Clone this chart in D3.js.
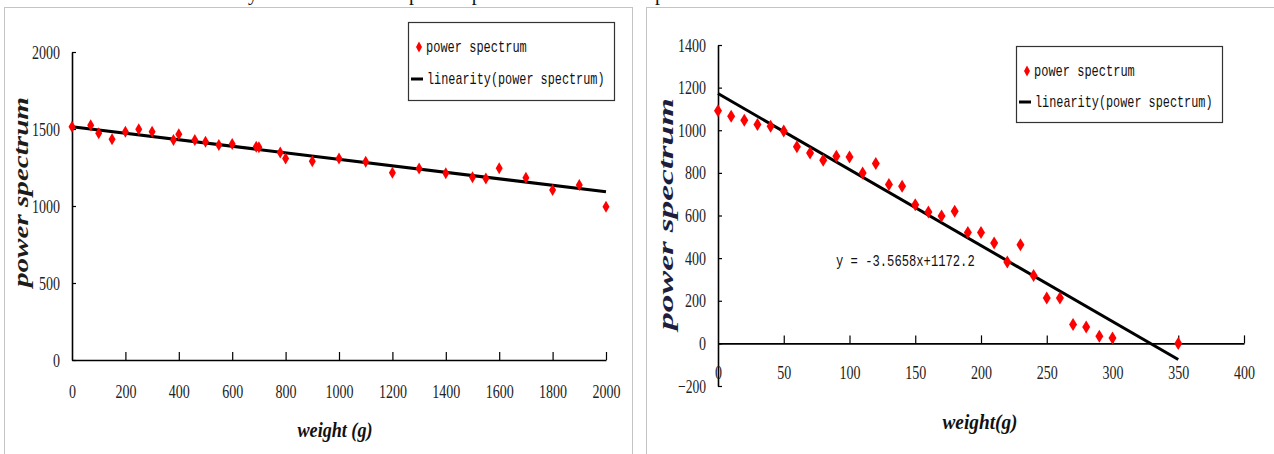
<!DOCTYPE html>
<html><head><meta charset="utf-8">
<script src="https://cdn.jsdelivr.net/npm/d3@7"></script>
<style>
html,body{margin:0;padding:0;background:#fff;}
svg{display:block;}
</style></head>
<body>
<svg id="c" width="1274" height="454"></svg>
<script>
// ---------- DATA ----------
const leftWeights = [0,70,100,150,200,250,300,380,400,460,500,550,600,690,700,780,800,900,1000,1100,1200,1300,1400,1500,1550,1600,1700,1800,1900,2000];
const leftPower   = [1515,1525,1472,1433,1482,1498,1482,1429,1466,1429,1418,1396,1403,1385,1381,1347,1309,1290,1309,1288,1216,1244,1212,1186,1179,1245,1184,1104,1136,995];
const leftFitX = [0, 2000];
const leftFitY = [1515, 1092];
const leftXTicks = [0,200,400,600,800,1000,1200,1400,1600,1800,2000];
const leftYTicks = [0,500,1000,1500,2000];

const rightWeights = [0,10,20,30,40,50,60,70,80,90,100,110,120,130,140,150,160,170,180,190,200,210,220,230,240,250,260,270,280,290,300,350];
const rightPower   = [1091,1066,1047,1027,1019,997,922,893,859,878,875,800,844,746,737,650,616,598,620,520,520,471,382,463,319,213,213,89,77,34,25,0];
const rightSlope = -3.5658, rightIntercept = 1172.2;
const rightFitX = [0, 350];
const rightXTicks = [0,50,100,150,200,250,300,350,400];
const rightYTicks = [-200,0,200,400,600,800,1000,1200,1400];

const seriesName = "power spectrum";
const fitName = "linearity(power spectrum)";
const equationText = "y = -3.5658x+1172.2";

// ---------- DRAW ----------
const svg = d3.select("#c");
const monoFont = "'Liberation Mono', 'DejaVu Sans Mono', monospace";
const serifFont = "'Liberation Serif', 'DejaVu Serif', serif";

// caption fragment at very top (clipped in the reference as well)
const cap = svg.append("text").attr("y", 0).attr("font-family", serifFont).attr("font-size", 20).attr("fill", "#111");
cap.append("tspan").attr("x", 258).attr("text-anchor", "end").text("The linearity");
cap.append("tspan").attr("x", 409).text("power spectrum");
cap.append("tspan").attr("x", 655).text("pressure");

// panel frames
svg.append("rect").attr("x", 4.5).attr("y", 7.5).attr("width", 628).attr("height", 470)
  .attr("fill", "#fff").attr("stroke", "#c4c4c4");
svg.append("rect").attr("x", 646.5).attr("y", 7.5).attr("width", 640).attr("height", 470)
  .attr("fill", "#fff").attr("stroke", "#c4c4c4");

function diamond(w, h) {
  return `M0,${-h/2}L${w/2},0L0,${h/2}L${-w/2},0Z`;
}

function fitText(sel, perChar) {
  sel.each(function() {
    const t = d3.select(this);
    const s = t.text();
    t.attr("textLength", s.length * perChar).attr("lengthAdjust", "spacingAndGlyphs");
  });
}

function drawChart(cfg) {
  const g = svg.append("g");
  const x = d3.scaleLinear().domain(cfg.xDomain).range(cfg.xRange);
  const y = d3.scaleLinear().domain(cfg.yDomain).range(cfg.yRange);
  const y0 = y(0);

  const ya = g.append("g").attr("transform", `translate(${cfg.xRange[0]},0)`)
    .call(d3.axisLeft(y).tickValues(cfg.yTicks).tickSizeInner(-4).tickSizeOuter(0).tickPadding(cfg.yPad).tickFormat(d3.format("d")));
  const xa = g.append("g").attr("transform", `translate(0,${y0})`)
    .call(d3.axisBottom(x).tickValues(cfg.xTicks).tickSizeInner(-8).tickSizeOuter(0).tickPadding(cfg.xPad).tickFormat(d3.format("d")));
  [ya, xa].forEach(a => {
    a.select(".domain").attr("stroke", "#000").attr("stroke-width", 1.6);
    a.selectAll(".tick line").attr("stroke", "#000").attr("stroke-width", 1.2);
    a.selectAll(".tick text").attr("font-family", serifFont).attr("font-size", cfg.tickSize).attr("fill", "#222");
    fitText(a.selectAll(".tick text"), 7);
  });
  xa.selectAll(".tick").filter(d => d === 0).select("line").remove();

  g.append("line")
    .attr("x1", x(cfg.fitX[0])).attr("y1", y(cfg.fitY[0]))
    .attr("x2", x(cfg.fitX[1])).attr("y2", y(cfg.fitY[1]))
    .attr("stroke", "#000").attr("stroke-width", 3);

  g.selectAll("path.pt").data(cfg.xs.map((v, i) => [v, cfg.ys[i]])).join("path")
    .attr("class", "pt")
    .attr("d", diamond(cfg.mw, cfg.mh))
    .attr("transform", d => `translate(${x(d[0])},${y(d[1])})`)
    .attr("fill", "#ff0000");

  const xt = g.append("text").attr("x", cfg.xTitle[0]).attr("y", cfg.xTitle[1])
    .attr("text-anchor", "middle").attr("dominant-baseline", "central")
    .attr("font-family", serifFont).attr("font-style", "italic").attr("font-weight", "bold")
    .attr("font-size", 20).attr("fill", "#111").text(cfg.xTitleText);
  xt.attr("textLength", cfg.xTitleLen).attr("lengthAdjust", "spacingAndGlyphs");

  const yt = g.append("text")
    .attr("transform", `translate(${cfg.yTitle[0]},${cfg.yTitle[1]}) rotate(-90)`)
    .attr("text-anchor", "middle").attr("dominant-baseline", "central")
    .attr("font-family", serifFont).attr("font-style", "italic").attr("font-weight", "bold")
    .attr("font-size", cfg.yTitleSize).attr("fill", cfg.yTitleColor).text(seriesName);
  yt.attr("textLength", cfg.yTitleLen).attr("lengthAdjust", "spacingAndGlyphs");

  const L = cfg.legend;
  g.append("rect").attr("x", L.x + 0.5).attr("y", L.y + 0.5).attr("width", L.w).attr("height", L.h)
    .attr("fill", "#fff").attr("stroke", "#333").attr("stroke-width", 1.2);
  g.append("path").attr("d", diamond(6, 11)).attr("transform", `translate(${L.x + 11},${L.r1})`).attr("fill", "#ff0000");
  g.append("text").attr("x", L.x + 18).attr("y", L.r1).attr("dominant-baseline", "central")
    .attr("font-family", monoFont).attr("font-size", 17).attr("fill", "#111").text(seriesName)
    .call(s => fitText(s, 7.2));
  g.append("line").attr("x1", L.x + 3).attr("x2", L.x + 15).attr("y1", L.r2).attr("y2", L.r2)
    .attr("stroke", "#000").attr("stroke-width", 3);
  g.append("text").attr("x", L.x + 19).attr("y", L.r2).attr("dominant-baseline", "central")
    .attr("font-family", monoFont).attr("font-size", 17).attr("fill", "#111").text(fitName)
    .call(s => fitText(s, 7.1));

  return {g, x, y};
}

drawChart({
  xDomain: [0, 2000], xRange: [72, 606],
  yDomain: [0, 2000], yRange: [360, 52],
  xTicks: leftXTicks, yTicks: leftYTicks,
  xPad: 25, yPad: 12, tickSize: 19,
  xs: leftWeights, ys: leftPower,
  fitX: leftFitX, fitY: leftFitY,
  mw: 7, mh: 12,
  xTitle: [335, 430], xTitleText: "weight (g)", xTitleLen: 75,
  yTitle: [21, 192], yTitleLen: 190, yTitleSize: 21, yTitleColor: "#1c1c1c",
  legend: {x: 408, y: 22, w: 206, h: 78, r1: 47, r2: 79}
});

const R = drawChart({
  xDomain: [0, 400], xRange: [718, 1244],
  yDomain: [-200, 1400], yRange: [386, 45],
  xTicks: rightXTicks, yTicks: rightYTicks,
  xPad: 22, yPad: 12, tickSize: 19,
  xs: rightWeights, ys: rightPower,
  fitX: rightFitX, fitY: rightFitX.map(v => rightSlope * v + rightIntercept),
  mw: 8, mh: 13,
  xTitle: [980, 422], xTitleText: "weight(g)", xTitleLen: 75,
  yTitle: [665, 214], yTitleLen: 232, yTitleSize: 22, yTitleColor: "#1e1e3c",
  legend: {x: 1016, y: 46, w: 206, h: 76, r1: 71, r2: 102}
});

R.g.append("text").attr("x", 836).attr("y", 261).attr("dominant-baseline", "central")
  .attr("font-family", monoFont).attr("font-size", 17).attr("fill", "#111").text(equationText)
  .call(s => fitText(s, 7.3));
</script>
</body></html>
